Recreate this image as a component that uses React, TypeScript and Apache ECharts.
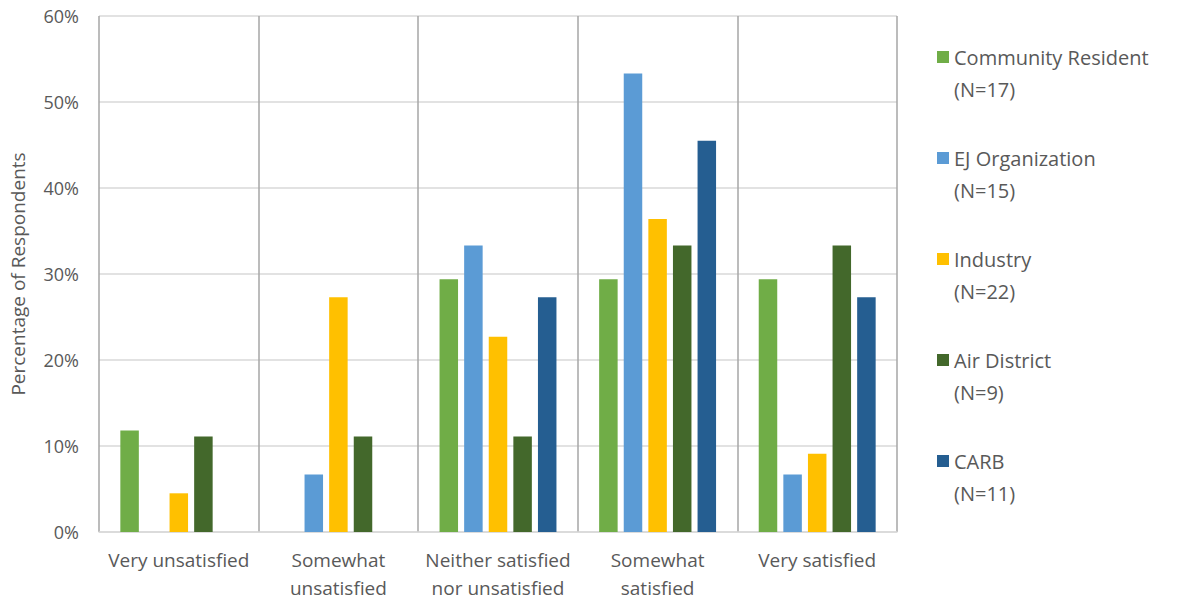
import React, { useEffect, useRef } from "react";
import * as echarts from "echarts";

const categories = [
  "Very unsatisfied",
  "Somewhat\nunsatisfied",
  "Neither satisfied\nnor unsatisfied",
  "Somewhat\nsatisfied",
  "Very satisfied",
];

const seriesNames = ["Community Resident", "EJ Organization", "Industry", "Air District", "CARB"];
const sampleSizes = [17, 15, 22, 9, 11];

const seriesColors = ["#70AD47", "#5B9BD5", "#FFC000", "#43682B", "#255E91"];

// Percent of respondents in each group
const communityResident = [11.8, 0, 29.4, 29.4, 29.4];
const ejOrganization = [0, 6.7, 33.3, 53.3, 6.7];
const industry = [4.5, 27.3, 22.7, 36.4, 9.1];
const airDistrict = [11.1, 11.1, 11.1, 33.3, 33.3];
const carb = [0, 0, 27.3, 45.5, 27.3];

const yTicks = [0, 10, 20, 30, 40, 50, 60];

const allValues = [communityResident, ejOrganization, industry, airDistrict, carb];

const FONT = "'Open Sans', 'Noto Sans', sans-serif";
const TEXT = "#595959";

export default function App() {
  const ref = useRef<HTMLDivElement>(null);

  useEffect(() => {
    document.body.style.margin = "0";
    if (!ref.current) return;
    const chart = echarts.init(ref.current, undefined, { renderer: "svg" });
    chart.setOption({
      animation: false,
      textStyle: { fontFamily: FONT },
      grid: { left: 98, right: 283, top: 16, bottom: 67 },
      legend: {
        orient: "vertical",
        left: 932,
        top: 4,
        icon: "rect",
        itemWidth: 12,
        itemHeight: 12,
        itemGap: 5,
        data: seriesNames,
        // leading blank line keeps the swatch level with the group name
        formatter: (name: string) => `\n${name}\n(N=${sampleSizes[seriesNames.indexOf(name)]})`,
        textStyle: {
          color: TEXT,
          fontSize: 20,
          lineHeight: 32,
          fontFamily: FONT,
        },
      },
      xAxis: {
        type: "category",
        data: categories,
        axisTick: { show: false },
        axisLine: { show: true, lineStyle: { color: "#D9D9D9", width: 1.5 } },
        splitLine: { show: true, lineStyle: { color: "#A6A6A6", width: 1.5 } },
        axisLabel: {
          color: TEXT,
          fontSize: 19,
          lineHeight: 28,
          margin: 14,
          interval: 0,
          fontFamily: FONT,
        },
      },
      yAxis: {
        type: "value",
        min: yTicks[0],
        max: yTicks[yTicks.length - 1],
        interval: 10,
        name: "Percentage of Respondents",
        nameLocation: "middle",
        nameGap: 72,
        nameTextStyle: { color: TEXT, fontSize: 19, fontFamily: FONT },
        axisLine: { show: false },
        axisTick: { show: false },
        splitLine: { lineStyle: { color: "#D9D9D9", width: 1.5 } },
        axisLabel: {
          color: TEXT,
          fontSize: 18,
          margin: 20,
          formatter: (v: number) => `${v}%`,
          fontFamily: FONT,
        },
      },
      series: seriesNames.map((name, i) => ({
        name,
        type: "bar",
        data: allValues[i],
        barWidth: 18.5,
        barGap: "33%",
        itemStyle: { color: seriesColors[i] },
      })),
    });
    return () => chart.dispose();
  }, []);

  return <div ref={ref} style={{ width: 1180, height: 602 }} />;
}
